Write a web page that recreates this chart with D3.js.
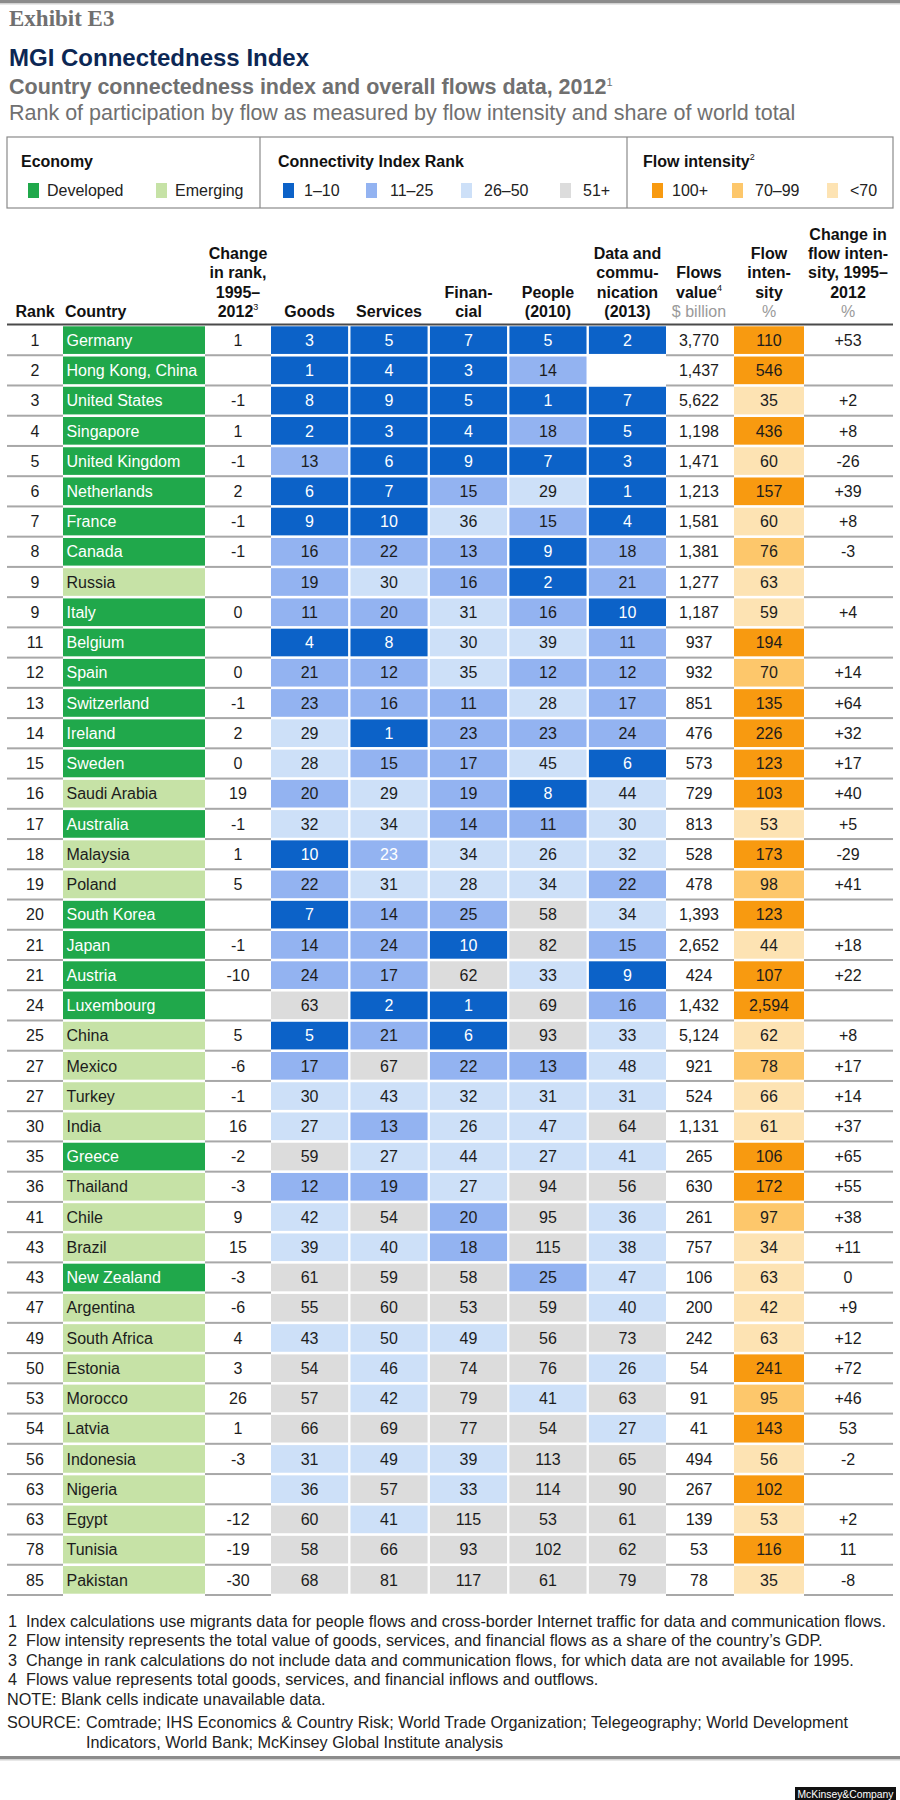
<!DOCTYPE html>
<html><head><meta charset="utf-8">
<script src="https://cdn.jsdelivr.net/npm/d3@7"></script>
<style>
body{margin:0;background:#fff;}
svg{display:block;}
</style></head><body>
<svg id="chart" width="900" height="1800"></svg>
<script>
// ---------------- DATA ----------------
const ranks = [1,2,3,4,5,6,7,8,9,9,11,12,13,14,15,16,17,18,19,20,21,21,24,25,27,27,30,35,36,41,43,43,47,49,50,53,54,56,63,63,78,85];
const countries = ["Germany","Hong Kong, China","United States","Singapore","United Kingdom","Netherlands","France","Canada","Russia","Italy","Belgium","Spain","Switzerland","Ireland","Sweden","Saudi Arabia","Australia","Malaysia","Poland","South Korea","Japan","Austria","Luxembourg","China","Mexico","Turkey","India","Greece","Thailand","Chile","Brazil","New Zealand","Argentina","South Africa","Estonia","Morocco","Latvia","Indonesia","Nigeria","Egypt","Tunisia","Pakistan"];
const economy = ["Developed","Developed","Developed","Developed","Developed","Developed","Developed","Developed","Emerging","Developed","Developed","Developed","Developed","Developed","Developed","Emerging","Developed","Emerging","Emerging","Developed","Developed","Developed","Developed","Emerging","Emerging","Emerging","Emerging","Developed","Emerging","Emerging","Emerging","Developed","Emerging","Emerging","Emerging","Emerging","Emerging","Emerging","Emerging","Emerging","Emerging","Emerging"];
const rankChange = ["1","","-1","1","-1","2","-1","-1","","0","","0","-1","2","0","19","-1","1","5","","-1","-10","","5","-6","-1","16","-2","-3","9","15","-3","-6","4","3","26","1","-3","","-12","-19","-30"];
const goods = [3,1,8,2,13,6,9,16,19,11,4,21,23,29,28,20,32,10,22,7,14,24,63,5,17,30,27,59,12,42,39,61,55,43,54,57,66,31,36,60,58,68];
const services = [5,4,9,3,6,7,10,22,30,20,8,12,16,1,15,29,34,23,31,14,24,17,2,21,67,43,13,27,19,54,40,59,60,50,46,42,69,49,57,41,66,81];
const financial = [7,3,5,4,9,15,36,13,16,31,30,35,11,23,17,19,14,34,28,25,10,62,1,6,22,32,26,44,27,20,18,58,53,49,74,79,77,39,33,115,93,117];
const people = [5,14,1,18,7,29,15,9,2,16,39,12,28,23,45,8,11,26,34,58,82,33,69,93,13,31,47,27,94,95,115,25,59,56,76,41,54,113,114,53,102,61];
const dataComm = [2,null,7,5,3,1,4,18,21,10,11,12,17,24,6,44,30,32,22,34,15,9,16,33,48,31,64,41,56,36,38,47,40,73,26,63,27,65,90,61,62,79];
const flowsValue = [3770,1437,5622,1198,1471,1213,1581,1381,1277,1187,937,932,851,476,573,729,813,528,478,1393,2652,424,1432,5124,921,524,1131,265,630,261,757,106,200,242,54,91,41,494,267,139,53,78];
const flowIntensity = [110,546,35,436,60,157,60,76,63,59,194,70,135,226,123,103,53,173,98,123,44,107,2594,62,78,66,61,106,172,97,34,63,42,63,241,95,143,56,102,53,116,35];
const intensityChange = ["+53","","+2","+8","-26","+39","+8","-3","","+4","","+14","+64","+32","+17","+40","+5","-29","+41","","+18","+22","","+8","+17","+14","+37","+65","+55","+38","+11","0","+9","+12","+72","+46","53","-2","","+2","11","-8"];

const flowCols = ["Goods","Services","Financial","People","Data"];
const flowSeries = [goods, services, financial, people, dataComm];
const econLegend = ["Developed","Emerging"];
const rankLegend = ["1–10","11–25","26–50","51+"];
const intensityLegend = ["100+","70–99","<70"];
const lightTextCells = [["Malaysia","Services"]];

const footnotes = [
  ["1","Index calculations use migrants data for people flows and cross-border Internet traffic for data and communication flows."],
  ["2","Flow intensity represents the total value of goods, services, and financial flows as a share of the country’s GDP."],
  ["3","Change in rank calculations do not include data and communication flows, for which data are not available for 1995."],
  ["4","Flows value represents total goods, services, and financial inflows and outflows."]
];
const noteText = "NOTE: Blank cells indicate unavailable data.";
const sourceLines = ["Comtrade; IHS Economics & Country Risk; World Trade Organization; Telegeography; World Development","Indicators, World Bank; McKinsey Global Institute analysis"];

// ---------------- STYLE / LAYOUT ----------------
const FONT = '"Liberation Sans", Arial, Helvetica, sans-serif';
const C = {
  dev:"#20a84b", emg:"#c6e2a6",
  r1:"#0c62c8", r2:"#93b3f1", r3:"#cde0f8", r4:"#dcdcdc",
  i1:"#f89a10", i2:"#fdc76b", i3:"#fde3b3",
  text:"#1c1c1c", grayText:"#6f6f6f", navy:"#0c2754", sep:"#a8a8a8"
};
const rankColor = d3.scaleThreshold().domain([11,26,51]).range([C.r1,C.r2,C.r3,C.r4]);
const intensityColor = d3.scaleThreshold().domain([70,100]).range([C.i3,C.i2,C.i1]);
const econColor = d3.scaleOrdinal().domain(econLegend).range([C.dev,C.emg]);
const fmt = d3.format(",");

const n = countries.length;
const tableTop = 325, tableBottom = 1595;
const y = d3.scaleBand().domain(d3.range(n)).range([tableTop, tableBottom]);
const xFlow = d3.scaleBand().domain(flowCols).range([271,666]).paddingInner(0.03);
const X = {rank:35, countryL:63, countryR:205, change:238, flowsV:699, intL:734, intR:804, intChg:848, left:7, right:893};

const svg = d3.select("#chart").attr("font-family", FONT);
svg.append("rect").attr("width",900).attr("height",1800).attr("fill","#fff");

// top rule
svg.append("rect").attr("x",0).attr("y",0).attr("width",900).attr("height",3).attr("fill","#8c8c8c");
svg.append("rect").attr("x",0).attr("y",3).attr("width",900).attr("height",1.5).attr("fill","#d2d2d2");

// titles
svg.append("text").attr("x",9).attr("y",26).attr("font-family",'"Liberation Serif", Georgia, serif')
  .attr("font-weight","bold").attr("font-size",23).attr("fill","#707070").text("Exhibit E3");
svg.append("text").attr("x",9).attr("y",66).attr("font-weight","bold").attr("font-size",24)
  .attr("fill",C.navy).text("MGI Connectedness Index");
const t3 = svg.append("text").attr("x",9).attr("y",94).attr("font-weight","bold").attr("font-size",21.5).attr("fill","#707070");
t3.append("tspan").text("Country connectedness index and overall flows data, 2012");
t3.append("tspan").attr("font-size",11).attr("dy",-8).attr("font-weight","normal").text("1");
svg.append("text").attr("x",9).attr("y",120).attr("font-size",21.5).attr("fill","#707070")
  .text("Rank of participation by flow as measured by flow intensity and share of world total");

// legend box
svg.append("rect").attr("x",X.left).attr("y",137).attr("width",X.right-X.left).attr("height",71)
  .attr("fill","none").attr("stroke","#8a8a8a").attr("stroke-width",1.2);
[260,627].forEach(xx=>svg.append("line").attr("x1",xx).attr("x2",xx).attr("y1",137).attr("y2",208).attr("stroke","#8a8a8a").attr("stroke-width",1.2));
const legendGroups = [
  {title:"Economy", sup:"", tx:21, items:econLegend, colors:econLegend.map(d=>econColor(d)), sw:[28,156], lx:[47,175]},
  {title:"Connectivity Index Rank", sup:"", tx:278, items:rankLegend, colors:[C.r1,C.r2,C.r3,C.r4], sw:[283,366,461,560], lx:[304,390,484,583]},
  {title:"Flow intensity", sup:"2", tx:643, items:intensityLegend, colors:[C.i1,C.i2,C.i3], sw:[652,732,827], lx:[672,755,850]}
];
legendGroups.forEach(g=>{
  const t = svg.append("text").attr("x",g.tx).attr("y",167).attr("font-weight","bold").attr("font-size",16).attr("fill","#111").text(g.title);
  if(g.sup) t.append("tspan").attr("font-size",9).attr("dy",-7).attr("font-weight","normal").text(g.sup);
  g.items.forEach((it,i)=>{
    svg.append("rect").attr("x",g.sw[i]).attr("y",183).attr("width",11).attr("height",15).attr("fill",g.colors[i]);
    svg.append("text").attr("x",g.lx[i]).attr("y",196).attr("font-size",16).attr("fill","#222").text(it);
  });
});

// column headers
const hdrBase = 317, hdrStep = 19.3;
const headers = [
  {x:X.rank, anchor:"middle", lines:[["Rank"]]},
  {x:X.countryL+2, anchor:"start", lines:[["Country"]]},
  {x:X.change, anchor:"middle", lines:[["Change"],["in rank,"],["1995–"],["2012","3"]]},
  {x:xFlow("Goods")+xFlow.bandwidth()/2, anchor:"middle", lines:[["Goods"]]},
  {x:xFlow("Services")+xFlow.bandwidth()/2, anchor:"middle", lines:[["Services"]]},
  {x:xFlow("Financial")+xFlow.bandwidth()/2, anchor:"middle", lines:[["Finan-"],["cial"]]},
  {x:xFlow("People")+xFlow.bandwidth()/2, anchor:"middle", lines:[["People"],["(2010)"]]},
  {x:xFlow("Data")+xFlow.bandwidth()/2, anchor:"middle", lines:[["Data and"],["commu-"],["nication"],["(2013)"]]},
  {x:X.flowsV, anchor:"middle", lines:[["Flows"],["value","4"]], unit:"$ billion"},
  {x:(X.intL+X.intR)/2, anchor:"middle", lines:[["Flow"],["inten-"],["sity"]], unit:"%"},
  {x:X.intChg, anchor:"middle", lines:[["Change in"],["flow inten-"],["sity, 1995–"],["2012"]], unit:"%"}
];
headers.forEach(h=>{
  const all = h.unit ? h.lines.concat([null]) : h.lines;
  const m = all.length;
  all.forEach((ln,k)=>{
    const yy = hdrBase - (m-1-k)*hdrStep;
    if(ln===null){
      svg.append("text").attr("x",h.x).attr("y",yy).attr("text-anchor",h.anchor).attr("font-size",16).attr("fill","#9a9a9a").text(h.unit);
      return;
    }
    const t = svg.append("text").attr("x",h.x).attr("y",yy).attr("text-anchor",h.anchor).attr("font-size",16).attr("font-weight","bold").attr("fill","#111");
    t.append("tspan").text(ln[0]);
    if(ln[1]) t.append("tspan").attr("font-size",9).attr("dy",-7).attr("font-weight","normal").text(ln[1]);
  });
});
svg.append("rect").attr("x",X.left).attr("y",tableTop-1.5).attr("width",X.right-X.left).attr("height",2).attr("fill","#4a4a4a");

// rows
const bw = y.bandwidth();
const inset = 1.3;
const segs = [[X.left,X.countryL],[X.countryR,271],[666,X.intL],[X.intR,X.right]];
const rows = d3.range(n);

// separators (in white columns)
rows.forEach(i=>{
  const yy = y(i)+bw;
  segs.forEach(s=>svg.append("rect").attr("x",s[0]).attr("y",yy-1).attr("width",s[1]-s[0]).attr("height",2).attr("fill",C.sep));
});

const g = svg.append("g");
const rowG = g.selectAll("g.row").data(rows).join("g").attr("class","row");
const baseOff = bw/2 + 5.7;

rowG.append("text").attr("x",X.rank).attr("y",i=>y(i)+baseOff).attr("text-anchor","middle").attr("font-size",16).attr("fill",C.text).text(i=>ranks[i]);
rowG.append("rect").attr("x",X.countryL).attr("y",i=>y(i)+inset).attr("width",X.countryR-X.countryL).attr("height",bw-2*inset).attr("fill",i=>econColor(economy[i]));
rowG.append("text").attr("x",X.countryL+3.5).attr("y",i=>y(i)+baseOff).attr("font-size",16)
  .attr("fill",i=>economy[i]==="Developed"?"#ffffff":C.text).text(i=>countries[i]);
rowG.append("text").attr("x",X.change).attr("y",i=>y(i)+baseOff).attr("text-anchor","middle").attr("font-size",16).attr("fill",C.text).text(i=>rankChange[i]);

flowCols.forEach((col,ci)=>{
  const vals = flowSeries[ci];
  const sel = rowG.filter(i=>vals[i]!==null && vals[i]!==undefined);
  sel.append("rect").attr("x",xFlow(col)).attr("y",i=>y(i)+inset).attr("width",xFlow.bandwidth()).attr("height",bw-2*inset).attr("fill",i=>rankColor(vals[i]));
  sel.append("text").attr("x",xFlow(col)+xFlow.bandwidth()/2).attr("y",i=>y(i)+baseOff).attr("text-anchor","middle").attr("font-size",16)
    .attr("fill",i=>{
      const light = lightTextCells.some(e=>e[0]===countries[i] && e[1]===col);
      return (vals[i]<=10 || light) ? "#ffffff" : C.text;
    }).text(i=>vals[i]);
});

rowG.append("text").attr("x",X.flowsV).attr("y",i=>y(i)+baseOff).attr("text-anchor","middle").attr("font-size",16).attr("fill",C.text).text(i=>fmt(flowsValue[i]));
rowG.append("rect").attr("x",X.intL).attr("y",i=>y(i)+inset).attr("width",X.intR-X.intL).attr("height",bw-2*inset).attr("fill",i=>intensityColor(flowIntensity[i]));
rowG.append("text").attr("x",(X.intL+X.intR)/2).attr("y",i=>y(i)+baseOff).attr("text-anchor","middle").attr("font-size",16).attr("fill",C.text).text(i=>fmt(flowIntensity[i]));
rowG.append("text").attr("x",X.intChg).attr("y",i=>y(i)+baseOff).attr("text-anchor","middle").attr("font-size",16).attr("fill",C.text).text(i=>intensityChange[i]);

// footnotes
const fnBase = 1627, fnStep = 19.4;
footnotes.forEach((f,k)=>{
  svg.append("text").attr("x",8).attr("y",fnBase+k*fnStep).attr("font-size",16.2).attr("fill","#222").text(f[0]);
  svg.append("text").attr("x",26).attr("y",fnBase+k*fnStep).attr("font-size",16.2).attr("fill","#222").text(f[1]);
});
svg.append("text").attr("x",7).attr("y",fnBase+4*fnStep).attr("font-size",16.2).attr("fill","#222").text(noteText);
svg.append("text").attr("x",7).attr("y",1728).attr("font-size",16.2).attr("fill","#222").text("SOURCE:");
sourceLines.forEach((s,k)=>svg.append("text").attr("x",86).attr("y",1728+k*19.5).attr("font-size",16.2).attr("fill","#222").text(s));

// bottom rule
svg.append("rect").attr("x",0).attr("y",1756).attr("width",900).attr("height",3).attr("fill","#8c8c8c");
svg.append("rect").attr("x",0).attr("y",1759).attr("width",900).attr("height",1.5).attr("fill","#d2d2d2");

// logo
svg.append("rect").attr("x",795).attr("y",1787).attr("width",101).attr("height",13).attr("fill","#111");
svg.append("text").attr("x",845.5).attr("y",1797.5).attr("text-anchor","middle").attr("font-size",10.5)
  .attr("textLength",96).attr("lengthAdjust","spacingAndGlyphs").attr("fill","#fff").text("McKinsey&Company");
</script>
</body></html>
